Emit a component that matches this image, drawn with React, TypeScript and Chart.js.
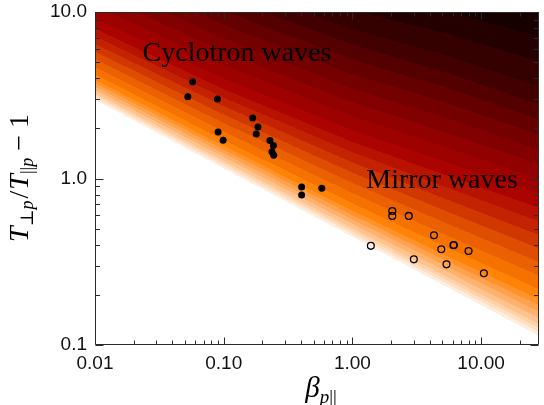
import React, { useEffect, useRef } from 'react';
import { Chart, registerables } from 'chart.js';

Chart.register(...registerables);

// ---------------- data ----------------
const xRange = [0.01, 28];
const yRange = [0.1, 10];
const xTickValues = [0.01, 0.1, 1, 10];
const xTickLabels = ['0.01', '0.10', '1.00', '10.00'];
const yTickValues = [0.1, 1, 10];
const yTickLabels = ['0.1', '1.0', '10.0'];

// filled circles (cyclotron events)
const cyclotronBeta = [0.0526, 0.0574, 0.0894, 0.0904, 0.0989, 0.168, 0.1845, 0.179, 0.2287, 0.243, 0.237, 0.2445, 0.403, 0.403, 0.578];
const cyclotronAniso = [3.1, 3.81, 3.0, 1.9, 1.7, 2.31, 2.04, 1.85, 1.69, 1.58, 1.45, 1.38, 0.889, 0.796, 0.873];

// open circles (mirror events)
const mirrorBeta = [1.39, 2.04, 2.04, 2.74, 3.0, 4.3, 4.9, 5.38, 6.09, 6.14, 7.98, 10.5];
const mirrorAniso = [0.394, 0.638, 0.596, 0.596, 0.327, 0.456, 0.376, 0.305, 0.397, 0.399, 0.367, 0.27];

// instability threshold  T⊥/T∥ - 1 = a / β^b
const thresholdA = 0.447;
const thresholdB = 0.411;

// contour field: log-distance above threshold of selected levels, tabulated
// against u = log10(β / 0.01)
const levelCount = 25;
const contourLevels = [0, 0.12, 0.3, 0.58, 0.73, 0.87, 1.0];
const contourU = [0, 1, 2, 2.7, 3.45];
const contourD0 = [0, 0.04, 0.13, 0.45, 0.74, 1.03, 1.33];
const contourD1 = [0, 0.045, 0.145, 0.5, 0.8, 1.09, 1.39];
const contourD2 = [0, 0.05, 0.17, 0.6, 0.91, 1.22, 1.58];
const contourD3 = [0, 0.06, 0.2, 0.7, 1.03, 1.35, 1.78];
const contourD4 = [0, 0.07, 0.24, 0.81, 1.14, 1.46, 1.95];

const stopPos = [0, 0.1, 0.2, 0.3, 0.4, 0.5, 0.58, 0.68, 0.78, 0.88, 1];
const stopRGB = [
  [255, 238, 222],
  [255, 205, 160],
  [255, 165, 85],
  [255, 128, 0],
  [228, 85, 0],
  [195, 35, 0],
  [172, 4, 0],
  [140, 0, 0],
  [105, 0, 0],
  [65, 0, 0],
  [22, 0, 0],
];

const labelTexts = ['Cyclotron waves', 'Mirror waves'];
const labelBeta = [0.0234, 1.28];
const labelAniso = [5.08, 0.877];

// ---------------- helpers ----------------
function cmap(f: number): number[] {
  if (f <= 0) return stopRGB[0];
  if (f >= 1) return stopRGB[stopRGB.length - 1];
  for (let i = 0; i < stopPos.length - 1; i++) {
    if (f >= stopPos[i] && f <= stopPos[i + 1]) {
      const t = (f - stopPos[i]) / (stopPos[i + 1] - stopPos[i]);
      const a = stopRGB[i], b = stopRGB[i + 1];
      return [a[0] + (b[0] - a[0]) * t, a[1] + (b[1] - a[1]) * t, a[2] + (b[2] - a[2]) * t];
    }
  }
  return stopRGB[stopRGB.length - 1];
}

const contourRows = [contourD0, contourD1, contourD2, contourD3, contourD4];

function rowAt(u: number): number[] {
  let i = 0;
  while (i < contourU.length - 2 && u > contourU[i + 1]) i++;
  const t = (u - contourU[i]) / (contourU[i + 1] - contourU[i]);
  const a = contourRows[i], b = contourRows[i + 1];
  return a.map((v, k) => v + (b[k] - v) * t);
}

function levelFromRow(row: number[], D: number): number {
  if (D < 0) return -1;
  let f = 1;
  for (let k = 0; k < row.length - 1; k++) {
    if (D <= row[k + 1]) {
      f = contourLevels[k] + ((D - row[k]) / (row[k + 1] - row[k])) * (contourLevels[k + 1] - contourLevels[k]);
      break;
    }
  }
  return Math.min(levelCount - 1, Math.floor(f * levelCount));
}

const serif = "'Liberation Serif', 'DejaVu Serif', serif";

type Part = { t: string; s: number; it?: boolean; dy?: number; gap?: number };

function partsWidth(ctx: CanvasRenderingContext2D, parts: Part[]) {
  let w = 0;
  for (const p of parts) {
    ctx.font = `${p.it ? 'italic ' : ''}${p.s}px ${serif}`;
    w += ctx.measureText(p.t).width + (p.gap || 0);
  }
  return w;
}

function drawParts(ctx: CanvasRenderingContext2D, parts: Part[], cx: number, baseY: number) {
  let x = cx - partsWidth(ctx, parts) / 2;
  ctx.textAlign = 'left';
  ctx.textBaseline = 'alphabetic';
  for (const p of parts) {
    ctx.font = `${p.it ? 'italic ' : ''}${p.s}px ${serif}`;
    ctx.fillText(p.t, x, baseY + (p.dy || 0));
    x += ctx.measureText(p.t).width + (p.gap || 0);
  }
}

const yTitle: Part[] = [
  { t: 'T', s: 28, it: true },
  { t: '⊥', s: 18, dy: 5 },
  { t: 'p', s: 18, it: true, dy: 5, gap: 2 },
  { t: '/', s: 28, gap: 1 },
  { t: 'T', s: 28, it: true },
  { t: '||', s: 18, dy: 5 },
  { t: 'p', s: 18, it: true, dy: 5, gap: 7 },
  { t: '−', s: 28, gap: 7 },
  { t: '1', s: 28 },
];

const xTitle: Part[] = [
  { t: 'β', s: 29, it: true },
  { t: 'p', s: 19, it: true, dy: 6 },
  { t: '||', s: 19, dy: 6 },
];

function minorValues(lo: number, hi: number) {
  const out: number[] = [];
  for (let e = Math.floor(Math.log10(lo)); e <= Math.ceil(Math.log10(hi)); e++) {
    for (let m = 1; m <= 9; m++) {
      const v = m * Math.pow(10, e);
      if (v >= lo * 0.9999 && v <= hi * 1.0001) out.push(v);
    }
  }
  return out;
}

const heatmapPlugin = {
  id: 'heatmap',
  beforeDraw(chart: any) {
    const { ctx, chartArea: a, scales } = chart;
    const xs = scales.x, ys = scales.y;
    const w = Math.round(a.right - a.left), h = Math.round(a.bottom - a.top);
    const off = document.createElement('canvas');
    off.width = w;
    off.height = h;
    const octx = off.getContext('2d')!;
    const img = octx.createImageData(w, h);
    const lxs: number[] = [];
    const rows: number[][] = [];
    for (let i = 0; i < w; i++) {
      const lx = Math.log10(xs.getValueForPixel(a.left + i + 0.5));
      lxs.push(lx);
      rows.push(rowAt(lx - Math.log10(xRange[0])));
    }
    const colors: number[][] = [];
    for (let k = 0; k < levelCount; k++) colors.push(cmap(k / (levelCount - 1)));
    const la = Math.log10(thresholdA);
    for (let j = 0; j < h; j++) {
      const ly = Math.log10(ys.getValueForPixel(a.top + j + 0.5));
      for (let i = 0; i < w; i++) {
        const D = ly - la + thresholdB * lxs[i];
        const lev = levelFromRow(rows[i], D);
        const o = (j * w + i) * 4;
        const c = lev < 0 ? [255, 255, 255] : colors[lev];
        img.data[o] = c[0]; img.data[o + 1] = c[1]; img.data[o + 2] = c[2]; img.data[o + 3] = 255;
      }
    }
    octx.putImageData(img, 0, 0);
    ctx.drawImage(off, Math.round(a.left), Math.round(a.top));
  },
  afterDraw(chart: any) {
    const { ctx, chartArea: a, scales } = chart;
    const xs = scales.x, ys = scales.y;
    ctx.save();
    // annotations
    ctx.fillStyle = '#000';
    ctx.font = `28px ${serif}`;
    ctx.textAlign = 'left';
    ctx.textBaseline = 'alphabetic';
    for (let i = 0; i < labelTexts.length; i++) {
      ctx.fillText(labelTexts[i], xs.getPixelForValue(labelBeta[i]), ys.getPixelForValue(labelAniso[i]));
    }
    // frame + inward ticks
    const L = Math.round(a.left) + 0.5, R = Math.round(a.right) - 0.5;
    const T = Math.round(a.top) + 0.5, B = Math.round(a.bottom) - 0.5;
    ctx.strokeStyle = '#2a2a2a';
    ctx.lineWidth = 1;
    ctx.beginPath();
    ctx.rect(L, T, R - L, B - T);
    for (const v of minorValues(xRange[0], xRange[1])) {
      const major = xTickValues.some((t) => Math.abs(t - v) / t < 1e-6);
      const len = major ? 7 : 4;
      const px = Math.round(xs.getPixelForValue(v)) + 0.5;
      ctx.moveTo(px, B); ctx.lineTo(px, B - len);
      ctx.moveTo(px, T); ctx.lineTo(px, T + len);
    }
    for (const v of minorValues(yRange[0], yRange[1])) {
      const major = yTickValues.some((t) => Math.abs(t - v) / t < 1e-6);
      const len = major ? 8 : 4.5;
      const py = Math.round(ys.getPixelForValue(v)) + 0.5;
      ctx.moveTo(L, py); ctx.lineTo(L + len, py);
      ctx.moveTo(R, py); ctx.lineTo(R - len, py);
    }
    ctx.stroke();
    // axis titles
    ctx.fillStyle = '#000';
    drawParts(ctx, xTitle, 321, 397);
    ctx.translate(28, 178);
    ctx.rotate(-Math.PI / 2);
    drawParts(ctx, yTitle, 0, 0);
    ctx.restore();
  },
};

function tickLabel(values: number[], labels: string[]) {
  return (value: any) => {
    const v = Number(value);
    const i = values.findIndex((t) => Math.abs(t - v) / t < 1e-6);
    return i >= 0 ? labels[i] : '';
  };
}

export default function App() {
  const ref = useRef<HTMLCanvasElement>(null);
  useEffect(() => {
    if (!ref.current) return;
    const chart = new Chart(ref.current, {
      type: 'scatter',
      data: {
        datasets: [
          {
            data: cyclotronBeta.map((b, i) => ({ x: b, y: cyclotronAniso[i] })),
            pointRadius: 3.5,
            pointBackgroundColor: '#000',
            pointBorderColor: '#000',
            pointBorderWidth: 0,
          },
          {
            data: mirrorBeta.map((b, i) => ({ x: b, y: mirrorAniso[i] })),
            pointRadius: 3.4,
            pointBackgroundColor: 'rgba(0,0,0,0)',
            pointBorderColor: '#000',
            pointBorderWidth: 1.3,
          },
        ],
      },
      options: {
        responsive: false,
        animation: false,
        events: [],
        layout: { padding: { top: 12, right: 1, left: 0, bottom: 0 } },
        plugins: { legend: { display: false }, tooltip: { enabled: false } },
        scales: {
          x: {
            type: 'logarithmic',
            position: 'bottom',
            min: xRange[0],
            max: xRange[1],
            grid: { display: false, drawTicks: false },
            border: { display: false },
            afterFit: (s: any) => {
              s.height = 60;
              s.paddingLeft = 0;
              s.paddingRight = 0;
            },
            ticks: {
              autoSkip: false,
              maxRotation: 0,
              minRotation: 0,
              padding: 7,
              color: '#111',
              font: { family: 'Liberation Sans, Arial, sans-serif', size: 19 },
              callback: tickLabel(xTickValues, xTickLabels),
            },
          },
          y: {
            type: 'logarithmic',
            position: 'left',
            min: yRange[0],
            max: yRange[1],
            grid: { display: false, drawTicks: false },
            border: { display: false },
            afterFit: (s: any) => {
              s.width = 95;
              s.paddingTop = 0;
              s.paddingBottom = 0;
            },
            ticks: {
              autoSkip: false,
              padding: 8,
              color: '#111',
              font: { family: 'Liberation Sans, Arial, sans-serif', size: 19 },
              callback: tickLabel(yTickValues, yTickLabels),
            },
          },
        },
      } as any,
      plugins: [heatmapPlugin],
    });
    return () => chart.destroy();
  }, []);
  return (
    <div style={{ position: 'fixed', left: 0, top: 0, width: 544, height: 405, background: '#fff' }}>
      <canvas ref={ref} width={544} height={405} style={{ display: 'block' }} />
    </div>
  );
}
